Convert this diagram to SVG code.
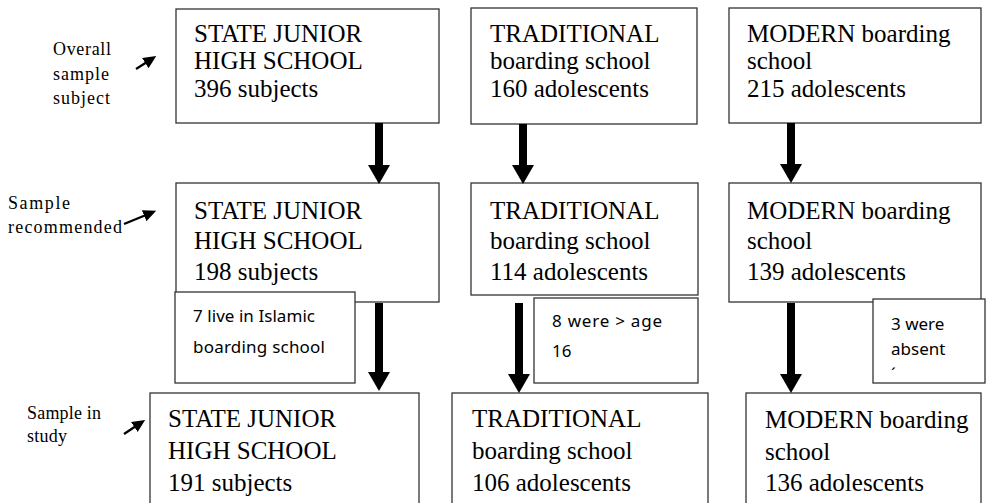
<svg xmlns="http://www.w3.org/2000/svg" width="987" height="503" viewBox="0 0 987 503">
<style>
.box{fill:#fff;stroke:#333;stroke-width:1.3}
.t{font-family:"Liberation Serif","Times New Roman",serif;font-size:25px;fill:#000}
.lab{font-family:"Liberation Serif","Times New Roman",serif;font-size:18px;fill:#000}
.ex{font-family:"Noto Sans","Liberation Sans",Arial,sans-serif;font-size:17px;fill:#000}
.big{stroke:#000;stroke-width:8;fill:none}
.small{stroke:#000;stroke-width:2.2;fill:none}
</style>
<defs>
<marker id="head" markerUnits="userSpaceOnUse" markerWidth="20" markerHeight="24" refX="0" refY="11" orient="auto">
<path d="M0,0 L19,11 L0,22 Z" fill="#000"/>
</marker>
<marker id="shead" markerUnits="userSpaceOnUse" markerWidth="14" markerHeight="14" refX="2" refY="6" orient="auto">
<path d="M0,0 L13,6 L0,12 Z" fill="#000"/>
</marker>
</defs>
<rect width="987" height="503" fill="#fff"/>

<g id="labels">
<g id="label-overall">
<text class="lab" x="53" y="55" textLength="58" lengthAdjust="spacing">Overall</text>
<text class="lab" x="53" y="80" textLength="56" lengthAdjust="spacing">sample</text>
<text class="lab" x="53" y="104" textLength="57" lengthAdjust="spacing">subject</text>
</g>
<g id="label-recommended">
<text class="lab" x="8" y="209" textLength="62" lengthAdjust="spacing">Sample</text>
<text class="lab" x="8" y="233" textLength="114" lengthAdjust="spacing">recommended</text>
</g>
<g id="label-study">
<text class="lab" x="27" y="419" textLength="74" lengthAdjust="spacing">Sample in</text>
<text class="lab" x="27" y="442" textLength="40" lengthAdjust="spacing">study</text>
</g>
</g>

<g id="row1">
<g id="state-overall"><rect class="box" x="176" y="9" width="263" height="114"/>
<text class="t" x="194" y="42">STATE JUNIOR</text><text class="t" x="194" y="69">HIGH SCHOOL</text><text class="t" x="194" y="97">396 subjects</text></g>
<g id="trad-overall"><rect class="box" x="471" y="8" width="226" height="116"/>
<text class="t" x="490" y="42">TRADITIONAL</text><text class="t" x="490" y="69">boarding school</text><text class="t" x="490" y="97">160 adolescents</text></g>
<g id="modern-overall"><rect class="box" x="729" y="8" width="252" height="115"/>
<text class="t" x="747" y="42">MODERN boarding</text><text class="t" x="747" y="69">school</text><text class="t" x="747" y="97">215 adolescents</text></g>
</g>

<g id="row2">
<g id="state-rec"><rect class="box" x="176" y="183" width="263" height="119"/>
<text class="t" x="194" y="219">STATE JUNIOR</text><text class="t" x="194" y="249">HIGH SCHOOL</text><text class="t" x="194" y="280">198 subjects</text></g>
<g id="trad-rec"><rect class="box" x="471" y="183" width="227" height="112"/>
<text class="t" x="490" y="219">TRADITIONAL</text><text class="t" x="490" y="249">boarding school</text><text class="t" x="490" y="280">114 adolescents</text></g>
<g id="modern-rec"><rect class="box" x="729" y="183" width="252" height="119"/>
<text class="t" x="747" y="219">MODERN boarding</text><text class="t" x="747" y="249">school</text><text class="t" x="747" y="280">139 adolescents</text></g>
</g>

<g id="exclusions">
<g id="ex-state"><rect class="box" x="175" y="292" width="180" height="91"/>
<text class="ex" x="193" y="322" textLength="122" lengthAdjust="spacing">7 live in Islamic</text>
<text class="ex" x="193" y="353" textLength="132" lengthAdjust="spacing">boarding  school</text></g>
<g id="ex-trad"><rect class="box" x="534" y="298" width="164" height="85"/>
<text class="ex" x="552" y="327" textLength="110" lengthAdjust="spacing">8 were &gt; age</text>
<text class="ex" x="552" y="357">16</text></g>
<g id="ex-modern"><rect class="box" x="873" y="299" width="112" height="84"/>
<text class="ex" x="891" y="330">3 were</text>
<text class="ex" x="891" y="355">absent</text>
<text class="ex" x="891" y="380">´</text></g>
</g>

<g id="row3">
<g id="state-study"><rect class="box" x="150" y="393" width="269" height="120"/>
<text class="t" x="168" y="427">STATE JUNIOR</text><text class="t" x="168" y="459">HIGH SCHOOL</text><text class="t" x="168" y="491">191 subjects</text></g>
<g id="trad-study"><rect class="box" x="452" y="393" width="256" height="120"/>
<text class="t" x="472" y="427">TRADITIONAL</text><text class="t" x="472" y="459">boarding school</text><text class="t" x="472" y="491">106 adolescents</text></g>
<g id="modern-study"><rect class="box" x="746" y="393" width="235" height="120"/>
<text class="t" x="765" y="428">MODERN boarding</text><text class="t" x="765" y="460">school</text><text class="t" x="765" y="491">136 adolescents</text></g>
</g>

<g id="connectors">
<line class="big" x1="379" y1="123" x2="379" y2="165" marker-end="url(#head)"/>
<line class="big" x1="523" y1="124" x2="523" y2="165" marker-end="url(#head)"/>
<line class="big" x1="791" y1="123" x2="791" y2="164" marker-end="url(#head)"/>
<line class="big" x1="379" y1="303" x2="379" y2="372" marker-end="url(#head)"/>
<line class="big" x1="519" y1="303" x2="519" y2="374" marker-end="url(#head)"/>
<line class="big" x1="791" y1="303" x2="791" y2="374" marker-end="url(#head)"/>
<line class="small" x1="136" y1="69" x2="147" y2="62" marker-end="url(#shead)"/>
<line class="small" x1="124" y1="224" x2="146" y2="215" marker-end="url(#shead)"/>
<line class="small" x1="124" y1="434" x2="136" y2="426" marker-end="url(#shead)"/>
</g>
</svg>
